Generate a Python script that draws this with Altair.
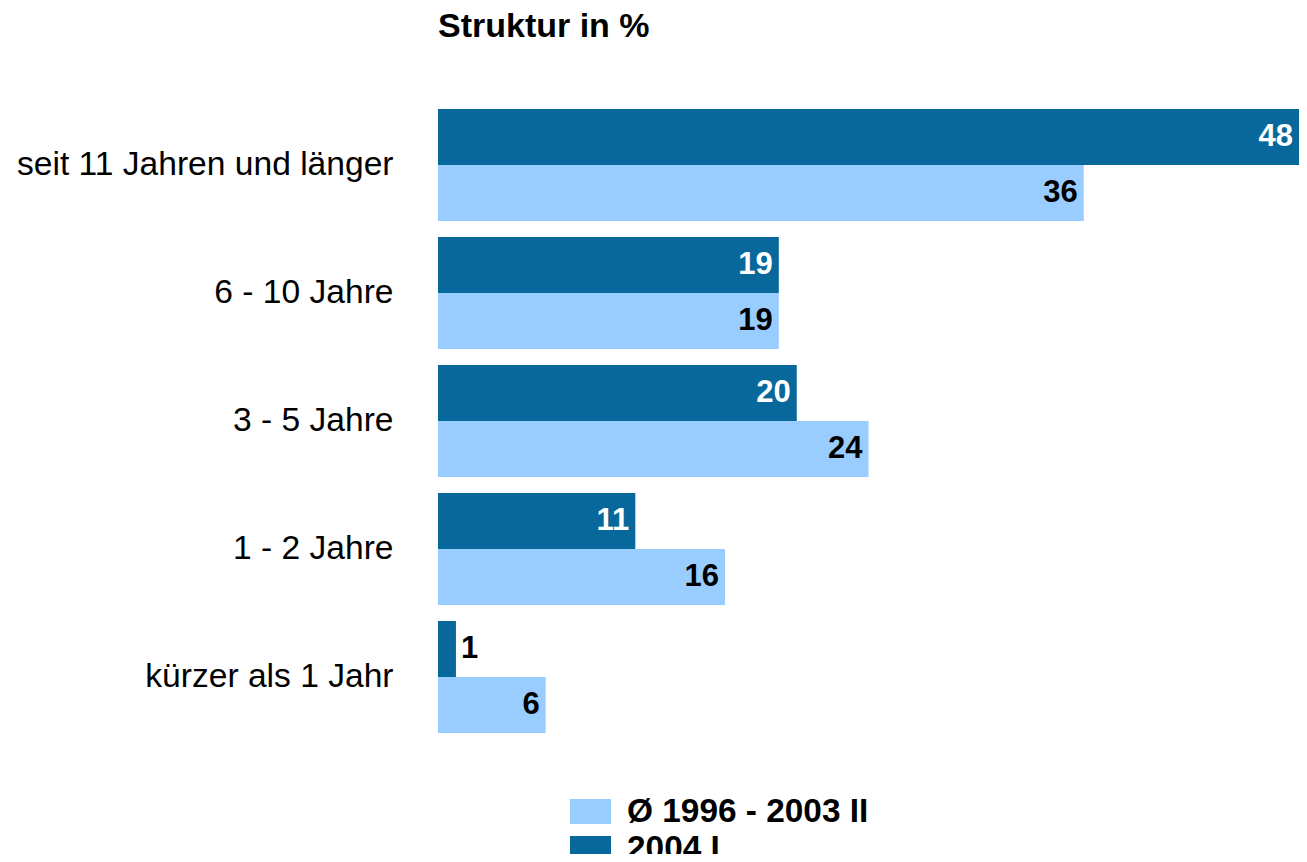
import altair as alt
import pandas as pd

categories = ["seit 11 Jahren und länger", "6 - 10 Jahre", "3 - 5 Jahre", "1 - 2 Jahre", "kürzer als 1 Jahr"]
series = ["Ø 1996 - 2003 II", "2004 I"]
values_avg = [36, 19, 24, 16, 6]
values_2004 = [48, 19, 20, 11, 1]

rows = []
for c, a, b in zip(categories, values_avg, values_2004):
    rows.append({"category": c, "series": series[0], "value": a})
    rows.append({"category": c, "series": series[1], "value": b})
df = pd.DataFrame(rows)

FONT = "Liberation Sans"
DARK = "#08679B"
LIGHT = "#99CCFF"

y = alt.Y("category:N", sort=categories, title=None,
          scale=alt.Scale(paddingInner=0.125, paddingOuter=0.0625),
          axis=alt.Axis(labelFontSize=33.6, labelFont=FONT, labelColor="black", labelPadding=45,
                        ticks=False, domain=False, labelLimit=600, grid=False))
yoff = alt.YOffset("series:N", sort=[series[1], series[0]], scale=alt.Scale(paddingInner=0, paddingOuter=0))
x = alt.X("value:Q", scale=alt.Scale(domain=[0, 48], nice=False, zero=True), axis=None)

bars = alt.Chart(df).mark_bar(cornerRadius=0).encode(
    x=x, y=y, yOffset=yoff,
    color=alt.Color("series:N", scale=alt.Scale(domain=series, range=[LIGHT, DARK]),
                    legend=alt.Legend(title=None, orient="none", legendX=132, legendY=690,
                                      direction="vertical",
                                      symbolType="M-1,-0.61H1V0.61H-1Z", symbolSize=1681,
                                      symbolStrokeWidth=0, symbolOpacity=1,
                                      labelFont=FONT, labelFontSize=33.4, labelFontWeight="bold",
                                      labelColor="black", labelOffset=16, rowPadding=-3,
                                      labelLimit=600, padding=0)),
)

inside = alt.Chart(df).transform_filter("datum.value >= 3").mark_text(
    align="right", baseline="middle", dx=-6, font=FONT, fontSize=31, fontWeight="bold"
).encode(
    x=x, y=y, yOffset=yoff, text="value:Q",
    color=alt.condition(alt.datum.series == series[1], alt.value("white"), alt.value("black")),
)

outside = alt.Chart(df).transform_filter("datum.value < 3").mark_text(
    align="left", baseline="middle", dx=5, font=FONT, fontSize=31, fontWeight="bold", color="black"
).encode(x=x, y=y, yOffset=yoff, text="value:Q")

chart = alt.layer(bars, inside, outside).properties(
    width=861, height=640,
    title=alt.TitleParams("Struktur in %", anchor="start", frame="group", font=FONT, fontSize=34,
                          fontWeight="bold", color="black", baseline="alphabetic", offset=30),
    autosize=alt.AutoSizeParams(type="none"),
    padding={"left": 430, "top": 93, "right": 0, "bottom": 113},
).configure(background="white").configure_view(strokeWidth=0, stroke="transparent")

chart.save("out.html", embed_options={"renderer": "svg", "actions": False})
